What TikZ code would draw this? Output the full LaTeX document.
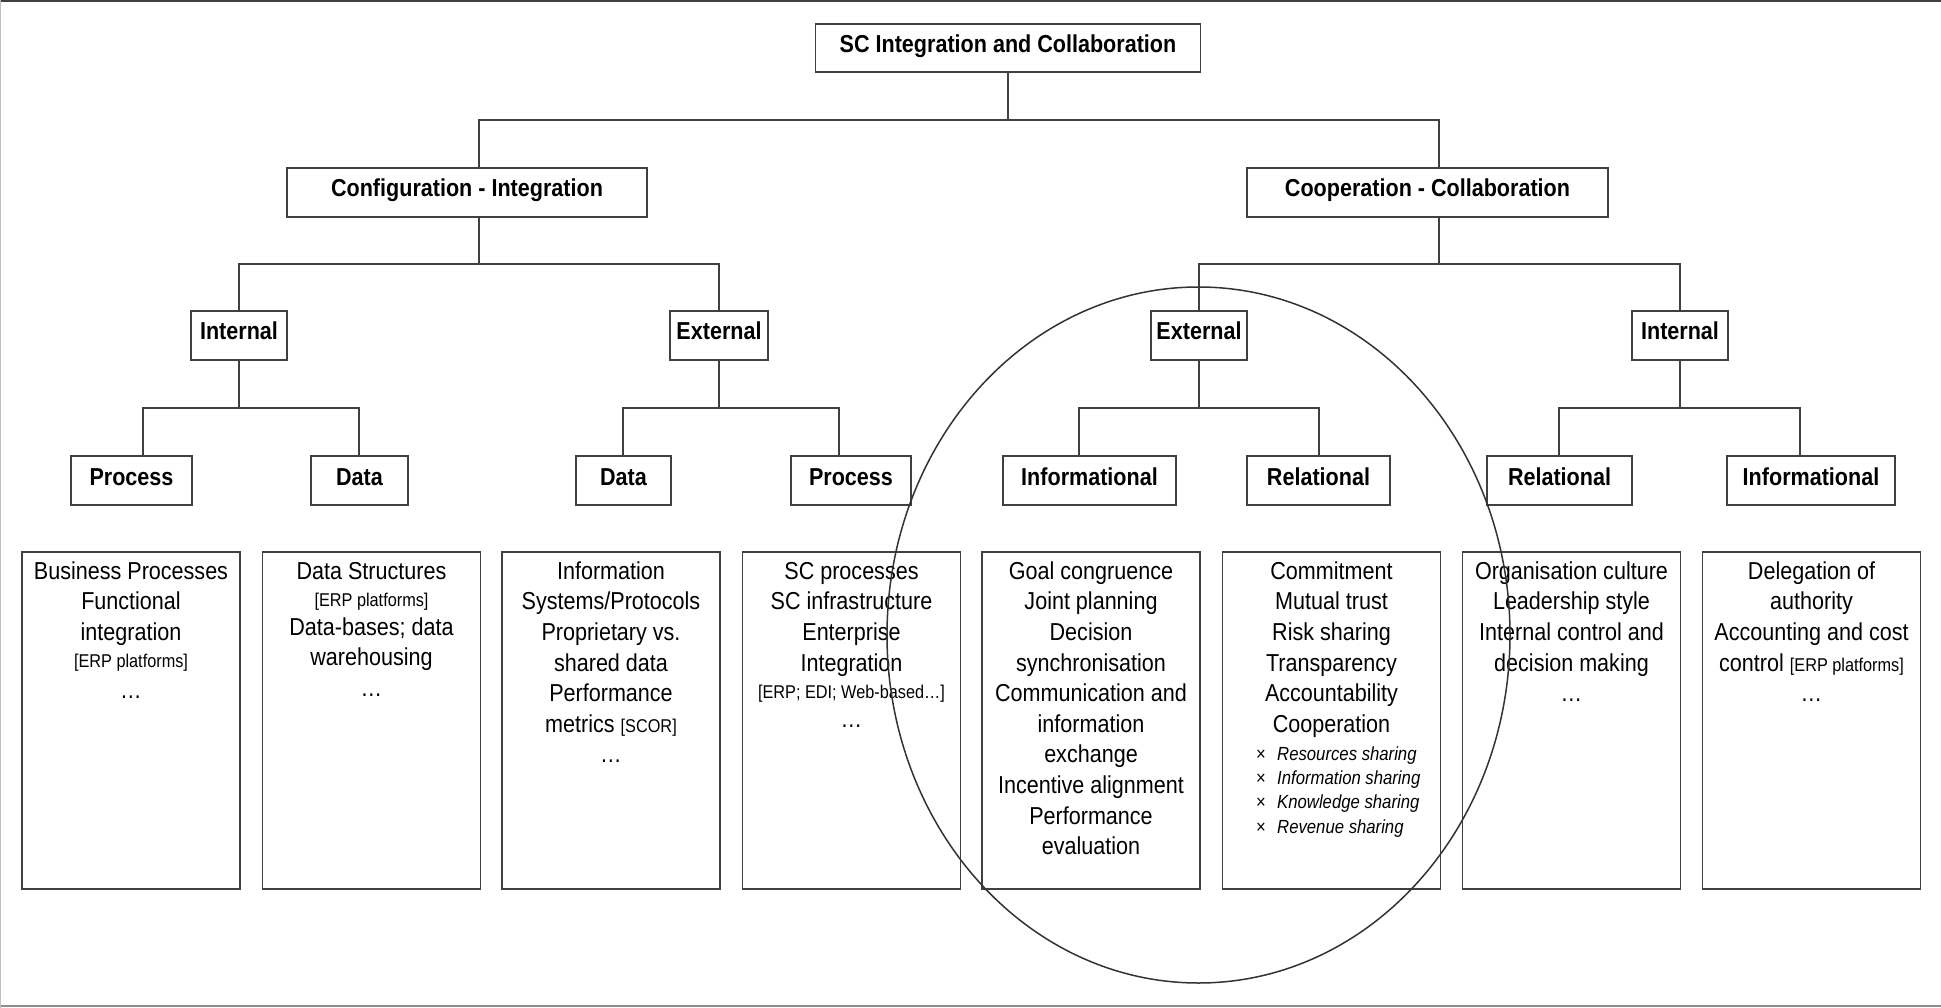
\documentclass[tikz,border=0pt]{standalone}
\usepackage{fontspec}
\setmainfont{Liberation Sans}[FakeStretch=0.88]
\usetikzlibrary{shapes.geometric}
\newcommand\smf{\fontsize{18.5}{22}\selectfont}
\begin{document}
\begin{tikzpicture}[x=1pt,y=-1pt,
  ln/.style={draw=black!75, line width=2pt},
  hdr/.style={draw=black!75, line width=1.8pt, rectangle, inner sep=0pt,
    font=\bfseries\fontsize{24.5}{29}\selectfont, text height=17pt, text depth=8pt},
  cbox/.style={draw=black!75, line width=1.8pt, rectangle, inner sep=0pt,
    minimum width=218pt, minimum height=337pt},
  ctext/.style={inner sep=0pt, align=center, anchor=north,
    font=\fontsize{24.5}{30.6}\selectfont},
  lvl4/.style={hdr, minimum height=49pt},
]
\useasboundingbox (0,0) rectangle (1941,1008);
% frame lines
\draw[black!75, line width=2pt] (0,1) -- (1941,1);
\draw[black!45, line width=2pt] (0,1006) -- (1941,1006);
\draw[black!25, line width=1pt] (0.5,0) -- (0.5,1008);

% headers
\node[hdr, minimum width=385pt, minimum height=48pt] (top) at (1008,48) {SC Integration and Collaboration};
\node[hdr, minimum width=360pt, minimum height=49pt] (cfg) at (467,192.5) {Configuration - Integration};
\node[hdr, minimum width=361pt, minimum height=49pt] (coop) at (1427.5,192.5) {Cooperation - Collaboration};

\node[hdr, minimum width=96pt, minimum height=49pt] (intL) at (239,335.5) {Internal};
\node[hdr, minimum width=98pt, minimum height=49pt] (extL) at (719,335.5) {External};
\node[hdr, minimum width=96pt, minimum height=49pt] (extR) at (1199,335.5) {External};
\node[hdr, minimum width=96pt, minimum height=49pt] (intR) at (1680,335.5) {Internal};

\node[lvl4, minimum width=121pt] (procL) at (131.5,480.5) {Process};
\node[lvl4, minimum width=97pt] (dataL) at (359.5,480.5) {Data};
\node[lvl4, minimum width=95pt] (dataE) at (623.5,480.5) {Data};
\node[lvl4, minimum width=120pt] (procE) at (851,480.5) {Process};
\node[lvl4, minimum width=173pt] (infE) at (1089.5,480.5) {Informational};
\node[lvl4, minimum width=143pt] (relE) at (1318.5,480.5) {Relational};
\node[lvl4, minimum width=145pt] (relI) at (1559.5,480.5) {Relational};
\node[lvl4, minimum width=168pt] (infI) at (1811,480.5) {Informational};

% connectors
\coordinate (j0) at (1008,120);
\coordinate (j0l) at (479,120);
\coordinate (j0r) at (1439,120);
\draw[ln] (top.south) -- (j0);
\draw[ln] (cfg.north -| j0l) -- (j0l) -- (j0r) -- (coop.north -| j0r);

\coordinate (j1) at (479,264);
\coordinate (j1l) at (239,264);
\coordinate (j1r) at (719,264);
\draw[ln] (cfg.south -| j1) -- (j1);
\draw[ln] (intL.north -| j1l) -- (j1l) -- (j1r) -- (extL.north -| j1r);

\coordinate (j2) at (1439,264);
\coordinate (j2l) at (1199,264);
\coordinate (j2r) at (1680,264);
\draw[ln] (coop.south -| j2) -- (j2);
\draw[ln] (extR.north -| j2l) -- (j2l) -- (j2r) -- (intR.north -| j2r);

\coordinate (k1) at (239,408);
\coordinate (k1l) at (143,408);
\coordinate (k1r) at (359,408);
\draw[ln] (intL.south -| k1) -- (k1);
\draw[ln] (procL.north -| k1l) -- (k1l) -- (k1r) -- (dataL.north -| k1r);

\coordinate (k2) at (719,408);
\coordinate (k2l) at (623,408);
\coordinate (k2r) at (839,408);
\draw[ln] (extL.south -| k2) -- (k2);
\draw[ln] (dataE.north -| k2l) -- (k2l) -- (k2r) -- (procE.north -| k2r);

\coordinate (k3) at (1199,408);
\coordinate (k3l) at (1079,408);
\coordinate (k3r) at (1319,408);
\draw[ln] (extR.south -| k3) -- (k3);
\draw[ln] (infE.north -| k3l) -- (k3l) -- (k3r) -- (relE.north -| k3r);

\coordinate (k4) at (1680,408);
\coordinate (k4l) at (1559,408);
\coordinate (k4r) at (1800,408);
\draw[ln] (intR.south -| k4) -- (k4);
\draw[ln] (relI.north -| k4l) -- (k4l) -- (k4r) -- (infI.north -| k4r);

% content boxes
\node[cbox] (c1) at (131,720.5) {};
\node[cbox] (c2) at (371.5,720.5) {};
\node[cbox] (c3) at (611,720.5) {};
\node[cbox] (c4) at (851.5,720.5) {};
\node[cbox] (c5) at (1091,720.5) {};
\node[cbox] (c6) at (1331.5,720.5) {};
\node[cbox] (c7) at (1571.5,720.5) {};
\node[cbox] (c8) at (1811.5,720.5) {};

\node[ctext] (t1) at (c1.north) {\rule{0pt}{28pt}Business Processes\\ Functional\\ integration\\[-3.5pt] {\smf [ERP platforms]}\\ …};
\node[ctext] (t2) at (c2.north) {\rule{0pt}{28pt}Data Structures\\[-3.5pt] {\smf [ERP platforms]}\\[-2pt] Data-bases; data\\ warehousing\\ …};
\node[ctext] (t3) at (c3.north) {\rule{0pt}{28pt}Information\\ Systems/Protocols\\ Proprietary vs.\\ shared data\\ Performance\\ metrics {\smf [SCOR]}\\ …};
\node[ctext] (t4) at (c4.north) {\rule{0pt}{28pt}SC processes\\ SC infrastructure\\ Enterprise\\ Integration\\[-3.5pt] {\smf [ERP; EDI; Web-based…]}\\[-1.5pt] …};
\node[ctext] (t5) at (c5.north) {\rule{0pt}{28pt}Goal congruence\\ Joint planning\\ Decision\\ synchronisation\\ Communication and\\ information\\ exchange\\ Incentive alignment\\ Performance\\ evaluation};
\node[ctext] (t6) at (c6.north) {\rule{0pt}{28pt}Commitment\\ Mutual trust\\ Risk sharing\\ Transparency\\ Accountability\\ Cooperation};
\node[inner sep=0pt, anchor=north west, align=left, font=\fontsize{19}{24.3}\selectfont] (t6b) at (1256,740)
  {\rule{0pt}{20pt}\makebox[21pt][l]{×}\textit{Resources sharing}\\
   \makebox[21pt][l]{×}\textit{Information sharing}\\
   \makebox[21pt][l]{×}\textit{Knowledge sharing}\\
   \makebox[21pt][l]{×}\textit{Revenue sharing}};
\node[ctext] (t7) at (c7.north) {\rule{0pt}{28pt}Organisation culture\\ Leadership style\\ Internal control and\\ decision making\\ …};
\node[ctext] (t8) at (c8.north) {\rule{0pt}{28pt}Delegation of\\ authority\\ Accounting and cost\\ control {\smf [ERP platforms]}\\ …};

% highlight ellipse
\node[draw=black!80, line width=1.5pt, ellipse, inner sep=0pt, minimum width=623pt, minimum height=696pt] (oval) at (1198.5,635) {};
\end{tikzpicture}
\end{document}
